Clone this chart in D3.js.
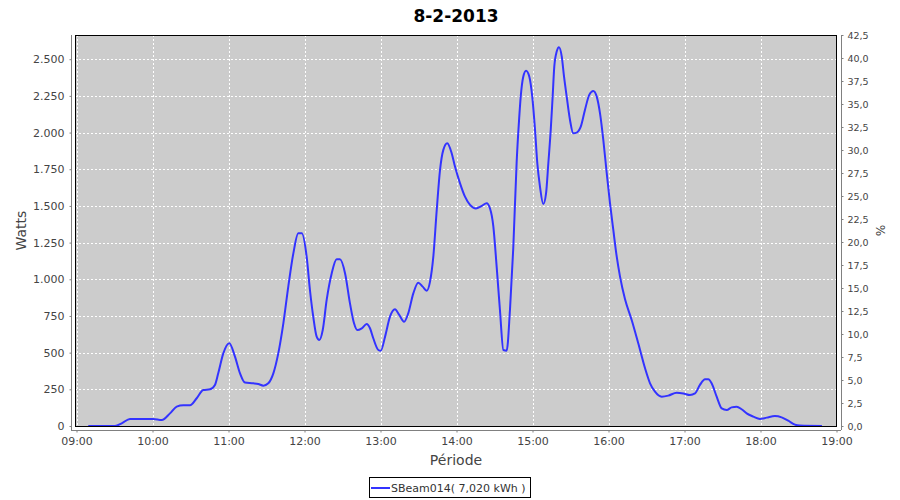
<!DOCTYPE html>
<html><head><meta charset="utf-8">
<script src="https://cdn.jsdelivr.net/npm/d3@7"></script>
<style>body{margin:0;background:#fff;} svg text{font-family:"DejaVu Sans",sans-serif;}</style>
</head><body><svg id="c" width="900" height="500"></svg>
<script>
const chartTitle = "8-2-2013";
const seriesName = "SBeam014( 7,020 kWh )";
const yLabelLeft = "Watts";
const yLabelRight = "%";
const xLabel = "Période";
// minutes after 09:00
const minutes = [9.3,30.4,36,42.2,60.6,67.3,73.8,79.1,84.3,89.6,94.9,100.1,105.4,109.3,111.9,115.9,120.6,125.1,129.1,133.0,139.6,143.5,147.5,151.4,155.4,159.3,163.3,167.2,171.2,175.1,177.8,181.7,184.3,186.9,189.6,191.7,194.4,197.5,201.5,205.4,208.0,212.0,215.9,219.1,221.7,225.2,229.1,231.7,234.3,238.3,240.2,243.6,247.5,251.4,254.8,258.6,261.9,265.9,269.8,273.3,276.5,279.1,281.7,284.4,287.0,289.6,292.7,296.2,298.8,302.8,306.7,310.7,315.4,319.9,323.8,326.4,329.1,331.7,334.3,337.0,339.6,342.2,344.8,347.5,349.5,350.7,352.7,354.9,357.5,359.8,362.0,363.8,365.9,368.5,370.7,372.5,374.4,375.9,377.2,379.1,380.9,383.1,384.9,387.0,389.6,392.2,394.9,398.1,401.4,404.8,408.0,410.7,413.3,415.9,418.6,421.2,423.8,426.5,429.1,433.0,438.3,443.5,448.8,452.8,456.7,462.0,467.2,473.8,479.1,484.3,488.3,492.2,496.2,498.8,501.4,505.4,509.4,513.3,517.2,521.2,525.1,529.1,534.3,539.6,544.9,551.4,556.7,561.9,567.2,571.1,588.5];
const watts = [0,0,20,48,48,41,86,132,141,141,189,245,250,280,359,495,564,473,359,296,291,286,275,291,359,495,700,950,1177,1313,1313,1154,927,745,609,586,654,859,1041,1136,1136,1041,836,700,654,666,695,666,598,518,513,609,745,795,757,711,768,904,977,950,922,984,1154,1473,1745,1882,1927,1859,1768,1654,1563,1507,1482,1500,1518,1484,1359,1086,790,518,513,790,1210,1800,2100,2245,2381,2422,2381,2245,2018,1791,1632,1513,1586,1791,2018,2245,2449,2552,2582,2518,2381,2245,2086,1995,2000,2040,2154,2257,2284,2245,2131,1950,1723,1518,1336,1154,1018,865,723,564,395,291,234,200,207,227,222,211,222,280,318,318,291,200,120,109,127,132,114,86,64,48,57,68,59,36,9,3,0];
const wattTicks = [0,250,500,750,1000,1250,1500,1750,2000,2250,2500];
const pctTicks = [0,2.5,5,7.5,10,12.5,15,17.5,20,22.5,25,27.5,30,32.5,35,37.5,40,42.5];
const hourTicks = ["09:00","10:00","11:00","12:00","13:00","14:00","15:00","16:00","17:00","18:00","19:00"];
const wattMax = 2665, pctMax = 42.5;

const svg = d3.select("#c");
const L = 75, R = 837, T = 35, B = 426;
const base = new Date(2013,1,8,9,0,0);
const parseHM = s => { const [h,m] = s.split(":").map(Number); return new Date(2013,1,8,h,m,0); };
const x = d3.scaleTime().domain([parseHM("09:00"), parseHM("19:00")]).range([76.5, 836.5]);
const y = d3.scaleLinear().domain([0, wattMax]).range([B, T]);
const yr = d3.scaleLinear().domain([0, pctMax]).range([B, T]);
const loc = d3.formatLocale({decimal:",", thousands:".", grouping:[3], currency:["","€"]});

svg.append("rect").attr("width",900).attr("height",500).attr("fill","#fff");
svg.append("text").attr("x",456).attr("y",22).attr("text-anchor","middle")
  .attr("font-size","17px").attr("font-weight","bold").attr("fill","#000").text(chartTitle);

svg.append("rect").attr("x",L).attr("y",T).attr("width",R-L).attr("height",B-T).attr("fill","#cccccc");

const g = svg.append("g");
g.selectAll("line.vg").data(hourTicks).join("line")
  .attr("x1",d=>Math.round(x(parseHM(d)))+0.5).attr("x2",d=>Math.round(x(parseHM(d)))+0.5)
  .attr("y1",T).attr("y2",B).attr("stroke","#fff").attr("stroke-dasharray","2,2");
g.selectAll("line.hg").data(wattTicks.filter(d=>d>0)).join("line")
  .attr("x1",L).attr("x2",R).attr("y1",d=>Math.round(y(d))+0.5).attr("y2",d=>Math.round(y(d))+0.5)
  .attr("stroke","#fff").attr("stroke-dasharray","2,2");

svg.append("rect").attr("x",L+0.5).attr("y",T+0.5).attr("width",R-L-1).attr("height",B-T)
  .attr("fill","none").attr("stroke","#000").attr("stroke-width",1);

svg.append("clipPath").attr("id","clp").append("rect").attr("x",L).attr("y",T).attr("width",R-L).attr("height",B-T);
const pts = minutes.map((m,i)=>({t:new Date(base.getTime()+m*60000), v:watts[i]}));
const line = d3.line().x(d=>x(d.t)).y(d=>y(d.v)).curve(d3.curveMonotoneX);
svg.append("path").datum(pts).attr("clip-path","url(#clp)").attr("d",line)
  .attr("fill","none").attr("stroke","#3333ff").attr("stroke-width",2);

function styleAxis(sel, fs){
  sel.select(".domain").attr("stroke","#808080");
  sel.selectAll(".tick line").attr("stroke","#808080");
  sel.selectAll(".tick text").attr("fill","#444").attr("font-size",fs).attr("font-family","DejaVu Sans, sans-serif");
}
const ax1 = svg.append("g").attr("transform","translate(71.5,0)")
  .call(d3.axisLeft(y).tickValues(wattTicks).tickSize(2).tickSizeOuter(0).tickPadding(5).tickFormat(loc.format(",d")));
ax1.select(".domain").attr("d",`M0,${T}V${B+4}`);
styleAxis(ax1,"11px");
const ax2 = svg.append("g").attr("transform","translate(841.5,0)")
  .call(d3.axisRight(yr).tickValues(pctTicks).tickSize(2).tickSizeOuter(0).tickPadding(4).tickFormat(loc.format(".1f")));
ax2.select(".domain").attr("d",`M0,${T}V${B+4}`);
styleAxis(ax2,"9.5px");
const ax3 = svg.append("g").attr("transform","translate(0,430.5)")
  .call(d3.axisBottom(x).tickValues(hourTicks.map(parseHM)).tickSize(2).tickSizeOuter(0).tickPadding(5).tickFormat(d3.timeFormat("%H:%M")));
ax3.select(".domain").attr("d",`M${L-4},0H${R+4}`);
styleAxis(ax3,"11px");

svg.append("text").attr("transform",`translate(26,${(T+B)/2}) rotate(-90)`).attr("text-anchor","middle")
  .attr("font-size","14px").attr("fill","#444").text(yLabelLeft);
svg.append("text").attr("transform",`translate(876,${(T+B)/2}) rotate(90)`).attr("text-anchor","middle")
  .attr("font-size","12px").attr("fill","#444").text(yLabelRight);
svg.append("text").attr("x",(L+R)/2).attr("y",465).attr("text-anchor","middle")
  .attr("font-size","14px").attr("fill","#444").text(xLabel);

const lg = svg.append("g");
lg.append("rect").attr("x",369.5).attr("y",477.5).attr("width",161).attr("height",20).attr("fill","#fff").attr("stroke","#000");
lg.append("line").attr("x1",371).attr("x2",390).attr("y1",488).attr("y2",488).attr("stroke","#3333ff").attr("stroke-width",2);
lg.append("text").attr("x",391).attr("y",492).attr("font-size","11px").attr("fill","#333").text(seriesName);
</script></body></html>
